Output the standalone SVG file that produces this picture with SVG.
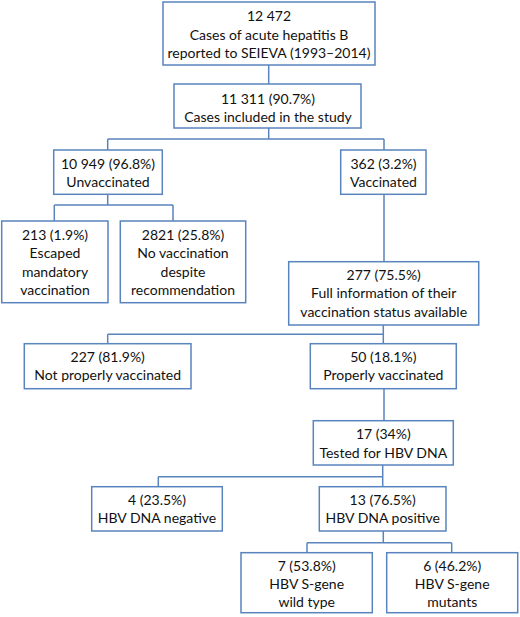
<svg xmlns="http://www.w3.org/2000/svg" width="520" height="617" viewBox="0 0 520 617">
<style>
rect.b{fill:#fff;stroke:#5A84BE;stroke-width:1.5}
text{font-family:Lato,"Liberation Sans",sans-serif;font-size:14px;fill:#111;text-anchor:middle}
.c{fill:none;stroke:#5A84BE;stroke-width:1.5}
</style>
<rect width="520" height="617" fill="#fff"/>
<g id="connectors">
<path class="c" d="M268.7,65 V84"/>
<path class="c" d="M268.7,128 V139 M107.7,139 H384 M107.7,139 V150 M384,139 V150"/>
<path class="c" d="M107.7,194.3 V205 M54.3,205 H173 M54.3,205 V221 M173,205 V221"/>
<path class="c" d="M384,194.3 V261.7"/>
<path class="c" d="M383.3,325 V334.3 M107.7,334.3 H383.3 M107.7,334.3 V343.7 M383.3,334.3 V343.7"/>
<path class="c" d="M384,388.7 V420.7"/>
<path class="c" d="M382.7,465 V476.7 M158.3,476.7 H382.7 M158.3,476.7 V486.7 M382.7,476.7 V486.7"/>
<path class="c" d="M383.3,531 V542.7 M307,542.7 H451.7 M307,542.7 V552.7 M451.7,542.7 V552.7"/>
</g>
<g id="n1"><rect class="b" x="163" y="2" width="212" height="63"/>
<text x="269" y="21">12 472</text><text x="269" y="39.5">Cases of acute hepatitis B</text><text x="269" y="58">reported to SEIEVA (1993–2014)</text></g>
<g id="n2"><rect class="b" x="174" y="84" width="187" height="44"/>
<text x="268" y="104">11 311 (90.7%)</text><text x="268" y="122">Cases included in the study</text></g>
<g id="n3"><rect class="b" x="53.7" y="150" width="108.6" height="44.3"/>
<text x="108" y="169">10 949 (96.8%)</text><text x="108" y="187">Unvaccinated</text></g>
<g id="n4"><rect class="b" x="340.7" y="150" width="85.3" height="44.3"/>
<text x="383.5" y="169">362 (3.2%)</text><text x="383.5" y="187">Vaccinated</text></g>
<g id="n5"><rect class="b" x="1.7" y="221" width="106.3" height="81.7"/>
<text x="55" y="240">213 (1.9%)</text><text x="55" y="258.3">Escaped</text><text x="55" y="276.7">mandatory</text><text x="55" y="295">vaccination</text></g>
<g id="n6"><rect class="b" x="120.3" y="221" width="125.4" height="81.7"/>
<text x="183" y="240">2821 (25.8%)</text><text x="183" y="258.3">No vaccination</text><text x="183" y="276.7">despite</text><text x="183" y="295">recommendation</text></g>
<g id="n7"><rect class="b" x="288.7" y="261.7" width="190" height="63.3"/>
<text x="383.7" y="280">277 (75.5%)</text><text x="383.7" y="298.3">Full information of their</text><text x="383.7" y="316.7">vaccination status available</text></g>
<g id="n8"><rect class="b" x="24.3" y="343.7" width="166.7" height="45"/>
<text x="107.7" y="362.3">227 (81.9%)</text><text x="107.7" y="380.3">Not properly vaccinated</text></g>
<g id="n9"><rect class="b" x="310.3" y="343.7" width="146" height="45"/>
<text x="383.3" y="362.3">50 (18.1%)</text><text x="383.3" y="380.3">Properly vaccinated</text></g>
<g id="n10"><rect class="b" x="313.3" y="420.7" width="140" height="44.3"/>
<text x="383.3" y="438.5">17 (34%)</text><text x="383.3" y="457.5">Tested for HBV DNA</text></g>
<g id="n11"><rect class="b" x="91.7" y="486.7" width="130.6" height="44.3"/>
<text x="157" y="505">4 (23.5%)</text><text x="157" y="523.3">HBV DNA negative</text></g>
<g id="n12"><rect class="b" x="319.3" y="486.7" width="126.7" height="44.3"/>
<text x="382.7" y="505">13 (76.5%)</text><text x="382.7" y="523.3">HBV DNA positive</text></g>
<g id="n13"><rect class="b" x="241" y="552.7" width="131.3" height="60"/>
<text x="306.7" y="570.7">7 (53.8%)</text><text x="306.7" y="589">HBV S-gene</text><text x="306.7" y="607">wild type</text></g>
<g id="n14"><rect class="b" x="386.7" y="552.7" width="131" height="60"/>
<text x="452.2" y="570.7">6 (46.2%)</text><text x="452.2" y="589">HBV S-gene</text><text x="452.2" y="607">mutants</text></g>
</svg>
